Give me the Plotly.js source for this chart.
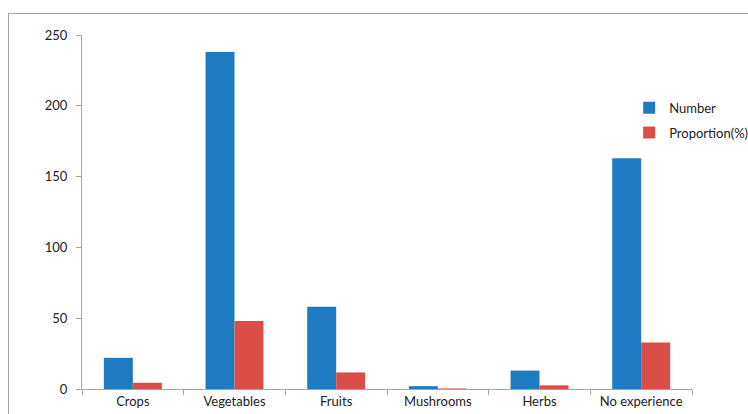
<!DOCTYPE html>
<html>
<head>
<meta charset="utf-8">
<script src="https://cdn.plot.ly/plotly-3.0.1.min.js"></script>
<style>
  body { margin: 0; padding: 0; background: #fff; overflow: hidden; }
  #wrap { position: relative; width: 748px; height: 414px; overflow: hidden; }
  #chart { width: 820px; height: 414px; }
  #frame { position: absolute; left: 8px; top: 13px; width: 800px; height: 500px;
           border: 1.5px solid #a6a6a6; pointer-events: none; box-sizing: border-box; }
</style>
</head>
<body>
<div id="wrap">
  <div id="chart"></div>
  <div id="frame"></div>
</div>
<script>
const categories = ["Crops", "Vegetables", "Fruits", "Mushrooms", "Herbs", "No experience"];
const numberValues = [22, 238, 58, 2, 13, 163];
const proportionValues = [4.4, 48.0, 11.7, 0.4, 2.6, 32.9];
const yTicks = [0, 50, 100, 150, 200, 250];

const fontFam = "Lato, 'Open Sans', 'Liberation Sans', sans-serif";

const data = [
  { type: "bar", name: "Number", x: categories, y: numberValues,
    legendgroup: "a", marker: { color: "#1f7bc1" } },
  { type: "bar", name: "Proportion(%)", x: categories, y: proportionValues,
    legendgroup: "b", marker: { color: "#db4e48" } }
];

const layout = {
  width: 820, height: 414,
  margin: { l: 82, r: 128, t: 35, b: 25, pad: 0 },
  paper_bgcolor: "rgba(0,0,0,0)",
  plot_bgcolor: "#fff",
  barmode: "group",
  bargap: 0.43,
  bargroupgap: 0,
  showlegend: true,
  font: { family: fontFam, size: 13, color: "#222" },
  xaxis: {
    type: "category",
    range: [-0.5, 5.5],
    showline: true, linecolor: "#a6a6a6", linewidth: 1,
    ticks: "outside", ticklen: 5, tickcolor: "#a6a6a6",
    tickson: "boundaries",
    showgrid: false, zeroline: false,
    tickfont: { family: fontFam, size: 13, color: "#222" },
    fixedrange: true
  },
  yaxis: {
    range: [0, 250],
    tickvals: yTicks,
    ticktext: yTicks.map(String),
    showline: true, linecolor: "#a6a6a6", linewidth: 1,
    ticks: "outside", ticklen: 5, tickcolor: "#a6a6a6",
    ticklabelstandoff: 6,
    showgrid: false, zeroline: false,
    tickfont: { family: fontFam, size: 13, color: "#222" },
    fixedrange: true
  },
  legend: {
    x: 0.897, y: 0.837, xanchor: "left", yanchor: "top",
    bgcolor: "rgba(0,0,0,0)",
    font: { family: fontFam, size: 13, color: "#222" },
    itemwidth: 30,
    traceorder: "grouped",
    tracegroupgap: 5
  }
};

Plotly.newPlot("chart", data, layout, { displayModeBar: false, staticPlot: true });
</script>
</body>
</html>
